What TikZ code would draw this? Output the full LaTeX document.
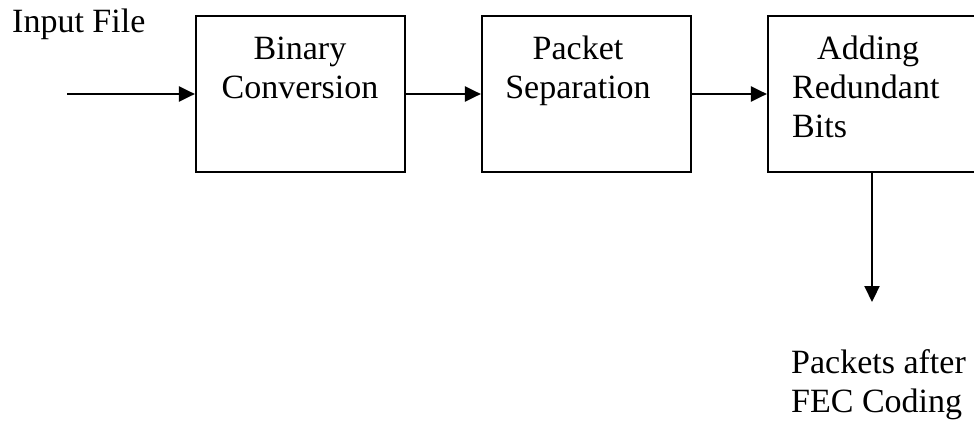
\documentclass[tikz,border=0pt]{standalone}
\usepackage{fontspec}
\setmainfont{Liberation Serif}
\usetikzlibrary{arrows.meta}
\begin{document}
\begin{tikzpicture}[x=1pt,y=-1pt,
  block/.style={draw, line width=2.2pt, inner sep=0pt},
  lbl/.style={inner sep=0pt, font=\fontsize{34}{39}\selectfont},
  flow/.style={line width=2.2pt, -{Triangle[length=16pt,width=15pt]}}]
\useasboundingbox (0,0) rectangle (974,422);

% processing blocks
\node[block, minimum width=209pt, minimum height=156pt] (conv) at (300.5,94) {};
\node[block, minimum width=209pt, minimum height=156pt] (sep) at (586.5,94) {};
\node[block, minimum width=214pt, minimum height=156pt] (bits) at (875,94) {};

% block captions (anchored on the baseline of their last line)
\node[lbl, anchor=base, align=center] (convtxt) at (300,99) {Binary\\Conversion};
\node[lbl, anchor=base, align=center] (septxt) at (578,99) {Packet\\Separation};
\node[lbl, anchor=base west, align=left] (bitstxt) at (792,138) {\hspace{25pt}Adding\\Redundant\\Bits};

% input and output labels
\node[lbl, anchor=base west] (input) at (12,33) {Input File};
\node[lbl, anchor=base west, align=left] (outtxt) at (791,412) {Packets after\\FEC Coding};

% data flow
\coordinate (src) at (67,94);
\coordinate (out) at (872,302);
\draw[flow] (src) -- (conv);
\draw[flow] (conv) -- (sep);
\draw[flow] (sep) -- (bits);
\draw[flow] (bits.south -| out) -- (out);
\end{tikzpicture}
\end{document}
